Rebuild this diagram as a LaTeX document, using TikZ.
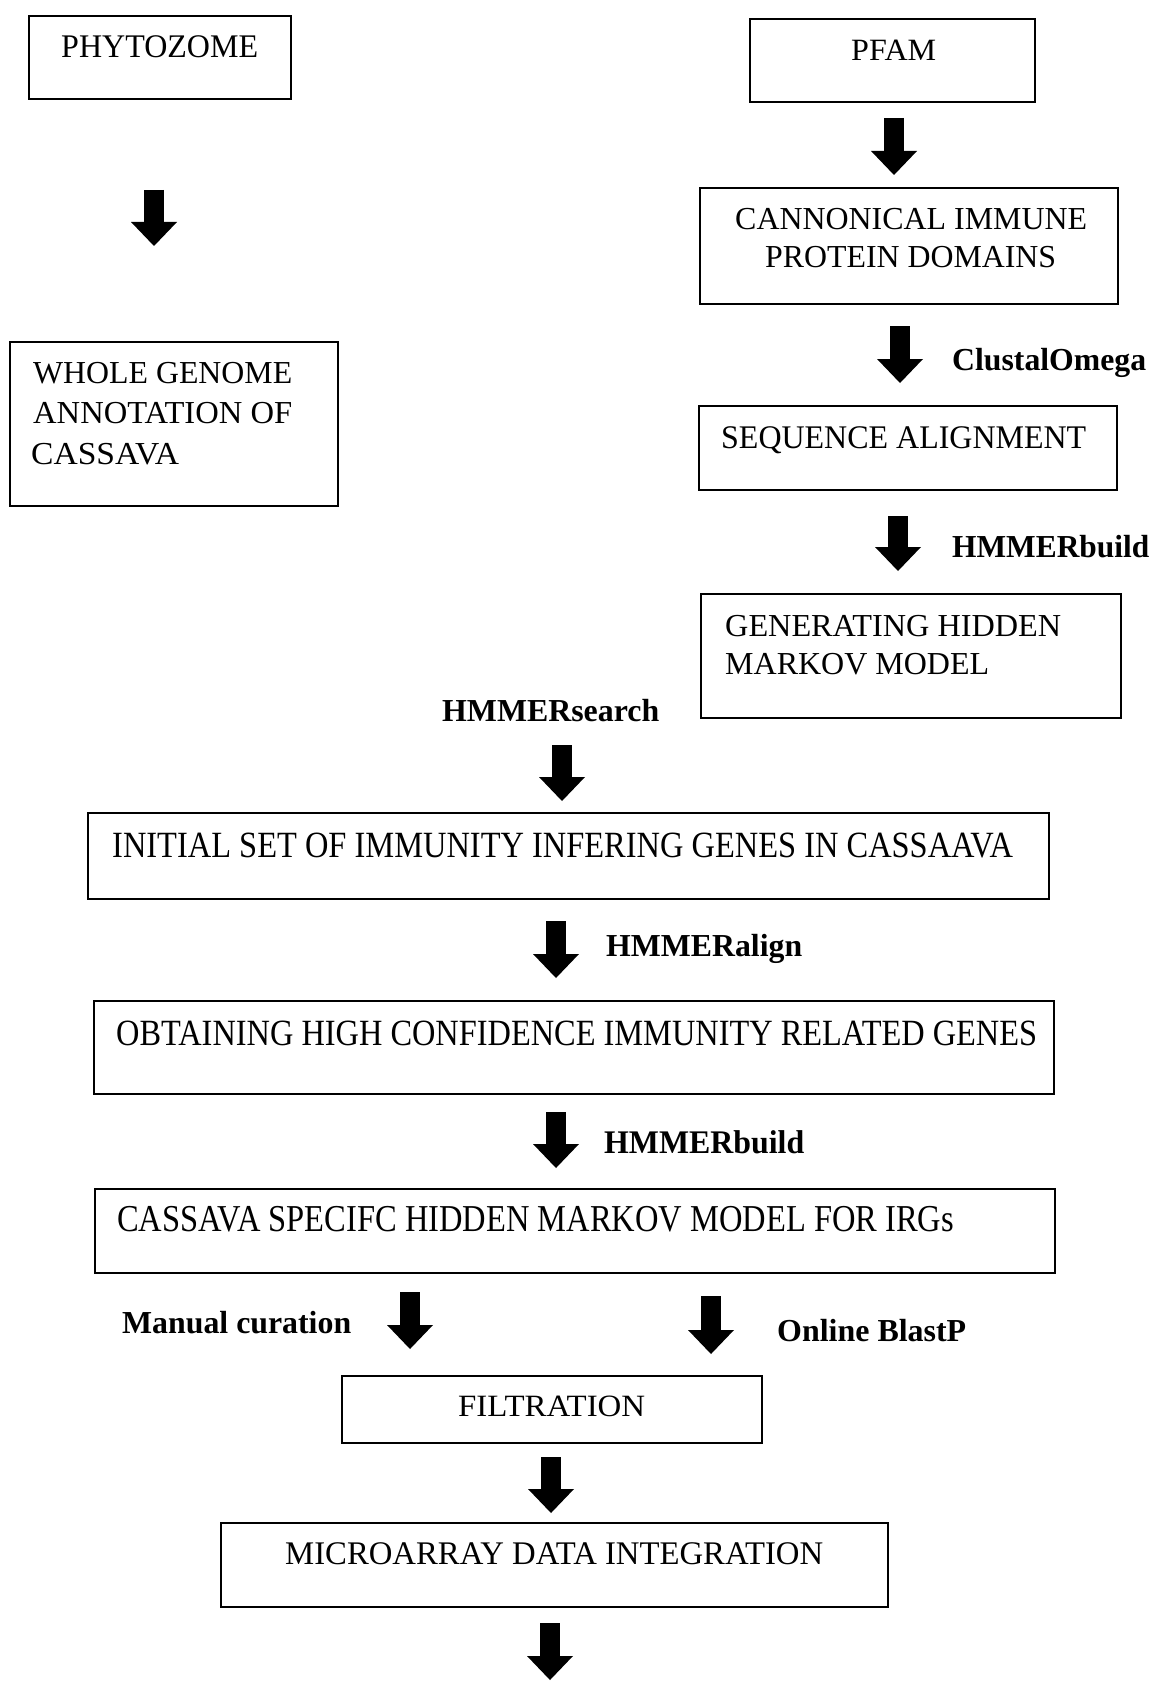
\documentclass[tikz,border=0pt]{standalone}
\usepackage{fontspec}
\setmainfont{Liberation Serif}
\usepackage{graphicx}
\usetikzlibrary{arrows.meta}
\newcommand\fw[2]{\resizebox{#1pt}{\height}{#2}}
\tikzset{
  box/.style={draw, line width=2.4pt, inner sep=0pt},
  txt/.style={anchor=base west, inner sep=0pt},
  lbl/.style={anchor=base west, inner sep=0pt, font=\bfseries},
  flow/.style={line width=20pt, -{Triangle[width=46pt,length=24pt,line width=0pt]}}
}
\begin{document}
\begin{tikzpicture}[x=1pt,y=-1pt]
\useasboundingbox (0,0) rectangle (1164,1688);
\fill[white] (0,0) rectangle (1164,1688);
% boxes
\node[box, minimum width=262pt, minimum height=83pt] (phyto) at (160,57.5) {};
\node[box, minimum width=328pt, minimum height=164pt] (whole) at (174,424) {};
\node[box, minimum width=285pt, minimum height=83pt] (pfam) at (892.5,60.5) {};
\node[box, minimum width=418pt, minimum height=116pt] (canon) at (909,246) {};
\node[box, minimum width=418pt, minimum height=84pt] (seq) at (908,448) {};
\node[box, minimum width=420pt, minimum height=124pt] (gen) at (911,656) {};
\node[box, minimum width=961pt, minimum height=86pt] (init) at (568.5,856) {};
\node[box, minimum width=960pt, minimum height=93pt] (obt) at (574,1047.5) {};
\node[box, minimum width=960pt, minimum height=84pt] (cspec) at (575,1231) {};
\node[box, minimum width=420pt, minimum height=67pt] (filt) at (552,1409.5) {};
\node[box, minimum width=667pt, minimum height=84pt] (micro) at (554.5,1565) {};
% texts
\node[txt, font=\fontsize{33}{38}\selectfont] (tphyto) at (61,58) {\fw{197}{PHYTOZOME}};
\node[txt, font=\fontsize{32}{38}\selectfont] (twhole1) at (33,383) {\fw{259}{WHOLE GENOME}};
\node[txt, font=\fontsize{32}{38}\selectfont] (twhole2) at (33,423) {\fw{259}{ANNOTATION OF}};
\node[txt, font=\fontsize{32}{38}\selectfont] (twhole3) at (31,464) {\fw{148}{CASSAVA}};
\node[txt, font=\fontsize{31}{38}\selectfont] (tpfam) at (851,61) {\fw{85}{PFAM}};
\node[txt, font=\fontsize{32}{38}\selectfont] (tcanon1) at (735,230) {\fw{352}{CANNONICAL IMMUNE}};
\node[txt, font=\fontsize{32}{38}\selectfont] (tcanon2) at (765,268) {\fw{291}{PROTEIN DOMAINS}};
\node[txt, font=\fontsize{33}{38}\selectfont] (tseq) at (721,448) {\fw{365}{SEQUENCE ALIGNMENT}};
\node[txt, font=\fontsize{32}{38}\selectfont] (tgen1) at (725,636) {\fw{336}{GENERATING HIDDEN}};
\node[txt, font=\fontsize{32}{38}\selectfont] (tgen2) at (725,674) {\fw{264}{MARKOV MODEL}};
\node[txt, font=\fontsize{37}{40}\selectfont] (tinit) at (112,857) {\fw{901}{INITIAL SET OF IMMUNITY INFERING GENES IN CASSAAVA}};
\node[txt, font=\fontsize{37}{40}\selectfont] (tobt) at (116,1045) {\fw{921}{OBTAINING HIGH CONFIDENCE IMMUNITY RELATED GENES}};
\node[txt, font=\fontsize{38}{40}\selectfont] (tcspec) at (117,1231) {\fw{837}{CASSAVA SPECIFC HIDDEN MARKOV MODEL FOR IRGs}};
\node[txt, font=\fontsize{31}{38}\selectfont] (tfilt) at (458,1416) {\fw{187}{FILTRATION}};
\node[txt, font=\fontsize{33}{38}\selectfont] (tmicro) at (285,1564) {\fw{538}{MICROARRAY DATA INTEGRATION}};
% labels
\node[lbl, font=\bfseries\fontsize{32}{38}\selectfont] (lclustal) at (952,370) {\fw{194}{ClustalOmega}};
\node[lbl, font=\bfseries\fontsize{32}{38}\selectfont] (lbuild1) at (952,557) {\fw{197}{HMMERbuild}};
\node[lbl, font=\bfseries\fontsize{32}{38}\selectfont] (lsearch) at (442,721) {\fw{217}{HMMERsearch}};
\node[lbl, font=\bfseries\fontsize{32}{38}\selectfont] (lalign) at (606,956) {\fw{196}{HMMERalign}};
\node[lbl, font=\bfseries\fontsize{33}{38}\selectfont] (lbuild2) at (604,1153) {\fw{200}{HMMERbuild}};
\node[lbl, font=\bfseries\fontsize{32}{38}\selectfont] (lmanual) at (122,1333) {\fw{229}{Manual curation}};
\node[lbl, font=\bfseries\fontsize{32}{38}\selectfont] (lblast) at (777,1341) {\fw{189}{Online BlastP}};
% arrow coordinates
\coordinate (a1s) at (154,190);  \coordinate (a1e) at (154,246);
\coordinate (a2s) at (894,118);  \coordinate (a2e) at (894,175);
\coordinate (a3s) at (900,326);  \coordinate (a3e) at (900,383);
\coordinate (a4s) at (898,516);  \coordinate (a4e) at (898,571);
\coordinate (a5s) at (562,745);  \coordinate (a5e) at (562,801);
\coordinate (a6s) at (556,921);  \coordinate (a6e) at (556,978);
\coordinate (a7s) at (556,1112); \coordinate (a7e) at (556,1168);
\coordinate (a8s) at (410,1292); \coordinate (a8e) at (410,1349);
\coordinate (a9s) at (711,1296); \coordinate (a9e) at (711,1354);
\coordinate (a10s) at (551,1457); \coordinate (a10e) at (551,1513);
\coordinate (a11s) at (550,1623); \coordinate (a11e) at (550,1680);
\foreach \i in {1,...,11} {\draw[flow] (a\i s) -- (a\i e);}
\end{tikzpicture}
\end{document}
